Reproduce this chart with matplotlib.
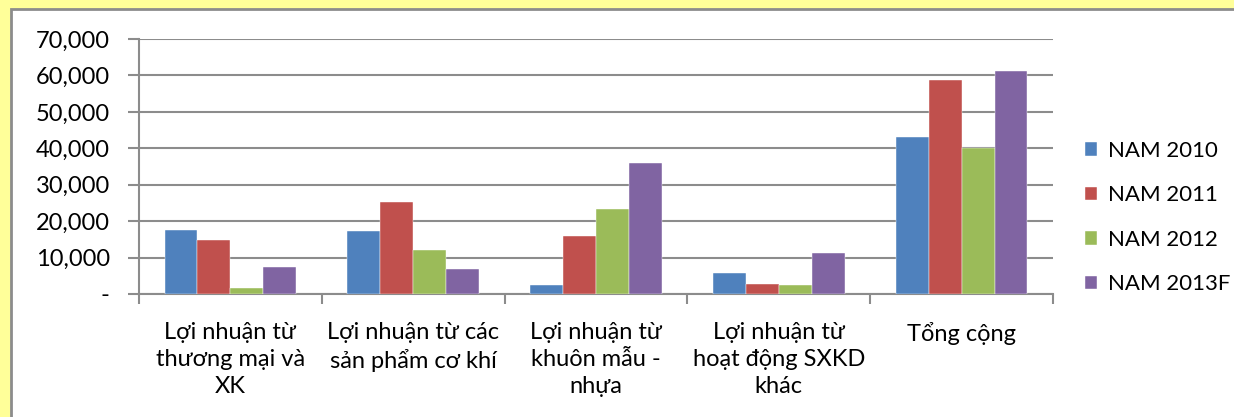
import numpy as np
import matplotlib.pyplot as plt
from matplotlib.patches import Rectangle

categories = ['Lợi nhuận từ\nthương mại và\nXK', 'Lợi nhuận từ các\nsản phẩm cơ khí',
              'Lợi nhuận từ\nkhuôn mẫu -\nnhựa', 'Lợi nhuận từ\nhoạt động SXKD\nkhác', 'Tổng cộng']
series_names = ['NAM 2010', 'NAM 2011', 'NAM 2012', 'NAM 2013F']
nam_2010 = [17600, 17300, 2500, 5800, 43100]
nam_2011 = [14800, 25200, 15900, 2700, 58700]
nam_2012 = [1700, 12100, 23300, 2500, 40000]
nam_2013f = [7400, 6900, 36000, 11200, 61200]
colors = ['#4F81BD', '#C0504D', '#9BBB59', '#8064A2']

plt.rcParams['font.family'] = ['Lato', 'DejaVu Sans']

fig = plt.figure(figsize=(12.34, 4.17), dpi=100)
fig.patch.set_facecolor('#FFFF99')
# white chart panel with grey frame (runs off right and bottom edges)
fig.patches.append(Rectangle((11/1234, -0.2), 1.2, 1.2 - 9/417, transform=fig.transFigure,
                             facecolor='white', edgecolor='#8C8C8C', linewidth=2, zorder=-10))

ax = fig.add_axes([139/1234, 1 - 294/417, (1053 - 139)/1234, (294 - 39)/417])
ax.set_facecolor('none')

x = np.arange(len(categories))
w = 0.18
for i, (vals, name) in enumerate(zip([nam_2010, nam_2011, nam_2012, nam_2013f], series_names)):
    ax.bar(x + (i - 1.5) * w, vals, w, color=colors[i], label=name, zorder=3,
           edgecolor='white', linewidth=0.3)

ax.set_xlim(-0.5, len(categories) - 0.5)
ax.set_ylim(0, 70000)
ax.set_yticks(np.arange(0, 70001, 10000))
ax.set_yticklabels(['-'] + [f'{v:,}' for v in range(10000, 70001, 10000)], fontsize=17)
ax.yaxis.grid(True, color='#8C8C8C', linewidth=1.5, zorder=0)
ax.set_axisbelow(True)

ax.set_xticks(np.arange(-0.5, len(categories), 1))
ax.set_xticklabels([])
ax.set_xticks(x, minor=True)
ax.set_xticklabels(categories, minor=True, fontsize=17, linespacing=1.35)
ax.tick_params(axis='x', which='minor', length=0, pad=20)
ax.tick_params(axis='x', which='major', length=7, color='#8C8C8C', width=1.5)
ax.tick_params(axis='y', length=8, color='#8C8C8C', width=1.5, pad=13)

for s in ['top', 'right']:
    ax.spines[s].set_visible(False)
for s in ['left', 'bottom']:
    ax.spines[s].set_color('#8C8C8C')
    ax.spines[s].set_linewidth(1.5)

ax.legend(loc='center left', bbox_to_anchor=(1.013, 0.30), frameon=False, fontsize=16,
          handlelength=0.55, handleheight=0.55, labelspacing=1.1, handletextpad=0.5)

fig.savefig('out.png', dpi=100, facecolor=fig.get_facecolor())
